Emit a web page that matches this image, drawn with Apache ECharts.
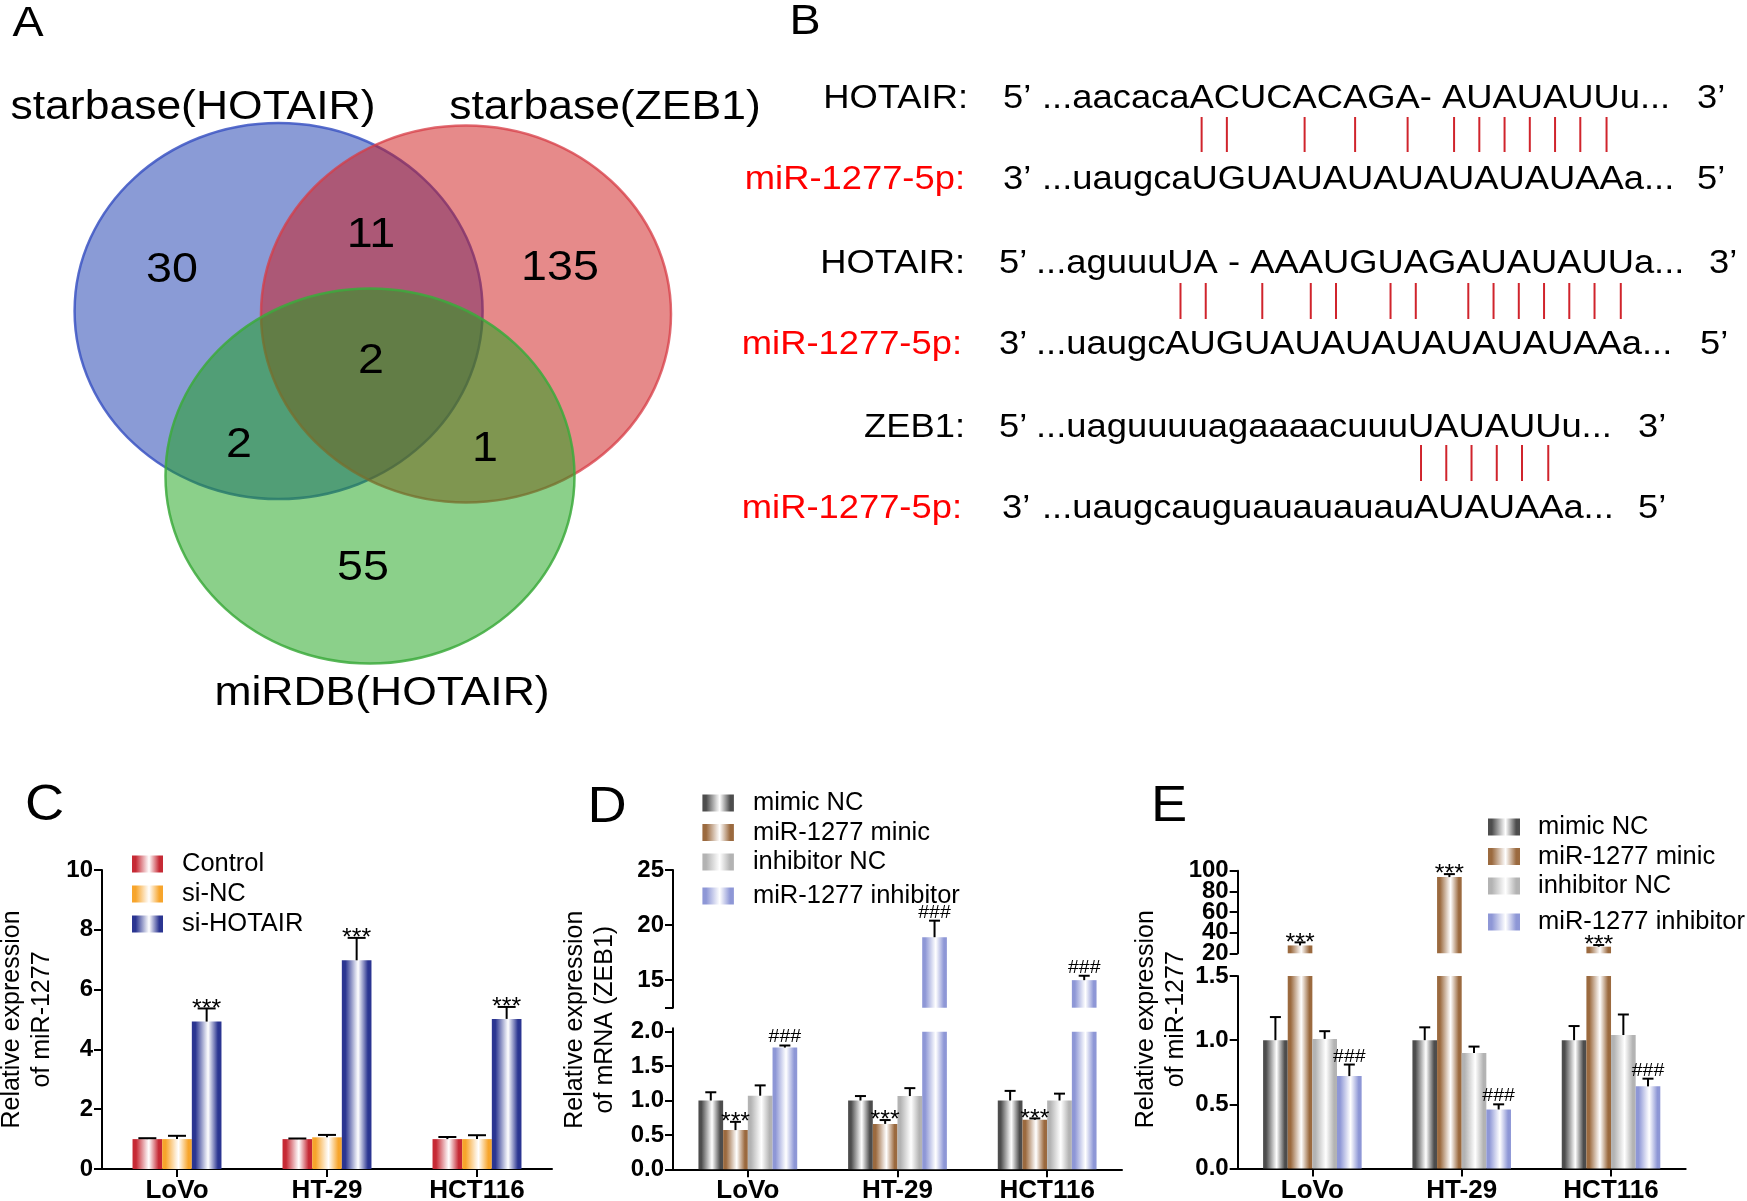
<!DOCTYPE html>
<html><head><meta charset="utf-8">
<script src="https://cdn.jsdelivr.net/npm/echarts@6/dist/echarts.min.js"></script>
<style>html,body{margin:0;padding:0;background:#fff}#c{width:1747px;height:1201px}</style>
</head><body><div id="c"></div>
<script>
const FONT = '"Liberation Sans", Arial, Helvetica, sans-serif';
const SX = 1.085; // horizontal stretch of the reference figure

// ---------- Panel A: Venn ----------
const vennSetNames = ['starbase(HOTAIR)', 'starbase(ZEB1)', 'miRDB(HOTAIR)'];
const vennCounts = [30, 11, 135, 2, 2, 1, 55];
// layout (kept separate from the data)
const vennSetGeom = [[278.6, 311, 204, 188], [466, 314, 205, 188.5], [370, 476, 204.5, 187.5]];
const vennSetLabelPos = [[193, 108], [605, 108], [382, 694]];
const vennCountPos = [[172, 270], [371, 235], [560, 268], [371, 361], [239, 445], [485, 449], [363, 568]];
const vennFill = ['rgba(21,55,173,0.5)', 'rgba(205,21,21,0.5)', 'rgba(23,161,21,0.5)'];
const vennStroke = ['rgba(60,85,195,0.85)', 'rgba(215,60,70,0.75)', 'rgba(60,170,60,0.85)'];

// ---------- Panel B: sequences ----------
const seqRows = [
  {label: 'HOTAIR:', red: false, endL: '5’', seq: '...aacacaACUCACAGA- AUAUAUUu...', endR: '3’'},
  {label: 'miR-1277-5p:', red: true, endL: '3’', seq: '...uaugcaUGUAUAUAUAUAUAUAAa...', endR: '5’'},
  {label: 'HOTAIR:', red: false, endL: '5’', seq: '...aguuuUA - AAAUGUAGAUAUAUUa...', endR: '3’'},
  {label: 'miR-1277-5p:', red: true, endL: '3’', seq: '...uaugcAUGUAUAUAUAUAUAUAAa...', endR: '5’'},
  {label: 'ZEB1:', red: false, endL: '5’', seq: '...uaguuuuagaaaacuuuUAUAUUu...', endR: '3’'},
  {label: 'miR-1277-5p:', red: true, endL: '3’', seq: '...uaugcauguauauauauAUAUAAa...', endR: '5’'}
];
// paired positions, counted from the first upper-case base of the upper strand
const pairSites = [
  [0, 1, 4, 6, 8, 11, 12, 13, 14, 15, 16, 17],
  [0, 1, 5, 7, 8, 10, 11, 13, 14, 15, 16, 17, 18, 19],
  [0, 1, 2, 3, 4, 5]
];
const rowY = [98.5, 179.5, 264, 345, 428, 509];
const rowLabelRight = [968, 965, 965, 962, 965, 962];
const rowEndLLeft = [1003, 1003, 999, 999, 999, 1002];
const rowSeqLeft = [1042, 1042, 1036, 1036, 1036, 1042];
const rowEndRLeft = [1697, 1697, 1709, 1700, 1638, 1638];
const pairY = [[117, 152], [283, 319], [445, 481]];

// ---------- Panels C, D, E: bar charts ----------
const cellLines = ['LoVo', 'HT-29', 'HCT116'];

const cGroups = ['Control', 'si-NC', 'si-HOTAIR'];
const cMean = [[1.0, 1.0, 1.0], [1.0, 1.06, 1.0], [4.93, 6.98, 5.02]];
const cErr = [[0.03, 0.02, 0.07], [0.11, 0.08, 0.13], [0.44, 0.75, 0.40]];
const cSig = [['', '', ''], ['', '', ''], ['***', '***', '***']];

const dGroups = ['mimic NC', 'miR-1277 minic', 'inhibitor NC', 'miR-1277 inhibitor'];
const dMean = [[1.0, 1.0, 1.0], [0.57, 0.66, 0.72], [1.07, 1.065, 1.0], [1.77, 18.9, 15.0]];
const dErr = [[0.12, 0.065, 0.14], [0.12, 0.056, 0.02], [0.15, 0.115, 0.10], [0.03, 1.5, 0.4]];
const dSig = [['', '', ''], ['***', '***', '***'], ['', '', ''], ['###', '###', '###']];

const eGroups = ['mimic NC', 'miR-1277 minic', 'inhibitor NC', 'miR-1277 inhibitor'];
const eMean = [[1.0, 1.0, 1.0], [27.6, 93.8, 26.4], [1.01, 0.90, 1.04], [0.72, 0.46, 0.64]];
const eErr = [[0.18, 0.10, 0.11], [3.0, 2.9, 1.6], [0.06, 0.05, 0.16], [0.09, 0.04, 0.06]];
const eSig = [['', '', ''], ['***', '***', '***'], ['', '', ''], ['###', '###', '###']];

const dLowerTicks = [0, 0.5, 1.0, 1.5, 2.0];
const dUpperLabels = [15, 20, 25];
const dUpperTicks = [12.5, 15, 20, 25];
const eUpperTicks = [20, 40, 60, 80, 100];
const eUpperLabelsA = [20, 60, 100];
const eUpperLabelsB = [40, 80];

const cColors = ['#c62a35', '#f7a52c', '#2b3591'];
const deColors = ['#4d4d4d', '#9b6a3f', '#b3b3b3', '#8e97d6'];

// ---------- helpers ----------
function mix(hex, t) {
  const n = parseInt(hex.slice(1), 16);
  const f = c => Math.round(c + (255 - c) * t);
  return 'rgb(' + f((n >> 16) & 255) + ',' + f((n >> 8) & 255) + ',' + f(n & 255) + ')';
}
function grad(hex) {
  return new echarts.graphic.LinearGradient(0, 0, 1, 0, [
    {offset: 0, color: hex}, {offset: 0.12, color: hex},
    {offset: 0.45, color: mix(hex, 0.78)}, {offset: 0.55, color: '#ffffff'},
    {offset: 0.88, color: hex}, {offset: 1, color: hex}
  ]);
}
const mctx = document.createElement('canvas').getContext('2d');
function textW(s, size) { mctx.font = size + 'px "Liberation Sans"'; return mctx.measureText(s).width; }

const AX_LINE = {show: true, lineStyle: {color: '#000', width: 2}};
const AX_TICK = {show: true, length: 8, lineStyle: {color: '#000', width: 2}};
function catAxis(gi, show) {
  return {gridIndex: gi, type: 'category', data: cellLines, show: show,
    axisLine: AX_LINE, axisTick: {show: true, alignWithLabel: true, length: 8, lineStyle: {color: '#000', width: 2}},
    axisLabel: {color: '#000', fontSize: 26, fontWeight: 'bold', fontFamily: FONT, margin: 9},
    splitLine: {show: false}};
}
function valAxis(gi, o) {
  return {gridIndex: gi, type: 'value', min: o.min, max: o.max, interval: o.interval, position: 'left',
    axisLine: o.noLine ? {show: false} : AX_LINE,
    axisTick: o.noLine ? {show: false} : Object.assign({}, AX_TICK, o.tickValues ? {customValues: o.tickValues} : {}),
    axisLabel: Object.assign({color: '#000', fontSize: 24, fontWeight: 'bold', fontFamily: FONT, margin: 9,
        lineHeight: o.lineHeight || 24, showMinLabel: true, showMaxLabel: true, hideOverlap: false},
      o.labelValues ? {customValues: o.labelValues} : {}, o.fixed ? {formatter: v => Number(v).toFixed(1)} : {}),
    splitLine: {show: false},
    name: o.name, nameLocation: 'middle', nameRotate: 90, nameGap: o.nameGap,
    nameTextStyle: {color: '#000', fontSize: 25, fontFamily: FONT, lineHeight: 30}};
}
function nameAxis(gi, name, gap) {
  return {gridIndex: gi, type: 'value', min: 0, max: 1, axisLine: {show: false}, axisTick: {show: false},
    axisLabel: {show: false}, splitLine: {show: false},
    name: name, nameLocation: 'middle', nameRotate: 90, nameGap: gap,
    nameTextStyle: {color: '#000', fontSize: 25, fontFamily: FONT, lineHeight: 30}};
}
function barSeries(name, ax, data, color, gap) {
  return {name: name, type: 'bar', xAxisIndex: ax, yAxisIndex: ax, data: data,
    barGap: '0%', barCategoryGap: gap * 100 + '%', itemStyle: {color: grad(color)},
    silent: true, emphasis: {disabled: true}, z: 2};
}
function errSeries(ax, means, errs, sigs, k, n, gap, cap, lo, hi) {
  return {type: 'custom', xAxisIndex: ax, yAxisIndex: ax, silent: true, z: 3,
    data: means.map((m, j) => [j, m, m + errs[j]]),
    renderItem: function (params, api) {
      const j = api.value(0), m = api.value(1), t = api.value(2);
      if (m < lo || t > hi) return null;
      const band = api.size([1, 0])[0];
      const bw = band * (1 - gap) / n;
      const p0 = api.coord([j, m]), p1 = api.coord([j, t]);
      const x = p0[0] + (k - (n - 1) / 2) * bw;
      const ch = [
        {type: 'line', shape: {x1: x, y1: p0[1], x2: x, y2: p1[1]}, style: {stroke: '#000', lineWidth: 2}},
        {type: 'line', shape: {x1: x - cap / 2, y1: p1[1], x2: x + cap / 2, y2: p1[1]}, style: {stroke: '#000', lineWidth: 2}}
      ];
      const s = sigs[params.dataIndex];
      if (s) {
        const star = s[0] === '*';
        ch.push({type: 'text', x: x, y: p1[1] + (star ? 1 : -8), scaleX: SX,
          style: {text: s, x: 0, y: 0, align: 'center', verticalAlign: 'middle', textAlign: 'center', textVerticalAlign: 'middle',
            fontSize: star ? 23 : 18, fontFamily: FONT, fill: '#000'}});
      }
      return {type: 'group', children: ch};
    }};
}

// ---------- grids ----------
const grids = [
  {left: 0, top: 0, width: 800, height: 760},          // 0 venn
  {left: 102, top: 870, width: 450, height: 299},      // 1 C
  {left: 673, top: 870, width: 449, height: 137.7},    // 2 D upper
  {left: 673, top: 1028.3, width: 449, height: 141},   // 3 D lower
  {left: 673, top: 870, width: 449, height: 299.3},    // 4 D name
  {left: 1237.7, top: 870.7, width: 448, height: 82.6},// 5 E upper
  {left: 1237.7, top: 976, width: 448, height: 192.5}, // 6 E lower
  {left: 1237.7, top: 870, width: 448, height: 298.5}  // 7 E name
].map(g => Object.assign(g, {containLabel: false, outerBoundsMode: 'none'}));

const xAxes = [
  {gridIndex: 0, type: 'value', min: 0, max: 800, show: false},
  catAxis(1, true),
  catAxis(2, false),
  catAxis(3, true),
  {gridIndex: 4, type: 'value', show: false},
  catAxis(5, false),
  catAxis(6, true),
  {gridIndex: 7, type: 'value', show: false}
];
const yAxes = [
  {gridIndex: 0, type: 'value', min: 0, max: 760, inverse: true, show: false},
  valAxis(1, {min: 0, max: 10, interval: 2, name: 'Relative expression\nof miR-1277', nameGap: 45}),
  valAxis(2, {min: 12.5, max: 25, labelValues: dUpperLabels, tickValues: dUpperTicks}),
  valAxis(3, {min: 0, max: 2.05, labelValues: dLowerTicks, tickValues: dLowerTicks, fixed: true}),
  nameAxis(4, 'Relative expression\nof mRNA (ZEB1)', 53),
  valAxis(5, {min: 20, max: 100, labelValues: eUpperLabelsA, tickValues: eUpperTicks, lineHeight: 18}),
  valAxis(6, {min: 0, max: 1.5, interval: 0.5, fixed: true, lineHeight: 18}),
  nameAxis(7, 'Relative expression\nof miR-1277', 47),
  valAxis(5, {min: 20, max: 100, labelValues: eUpperLabelsB, noLine: true, lineHeight: 18})
];

// ---------- series ----------
const series = [];
series.push({type: 'custom', xAxisIndex: 0, yAxisIndex: 0, silent: true, z: 1,
  data: vennSetGeom.map((g, i) => [g[0], g[1], g[2], g[3], i]),
  renderItem: function (params, api) {
    const i = params.dataIndex;
    const c = api.coord([api.value(0), api.value(1)]);
    const s = api.size([api.value(2), api.value(3)]);
    return {type: 'ellipse', shape: {cx: c[0], cy: c[1], rx: Math.abs(s[0]), ry: Math.abs(s[1])},
      style: {fill: vennFill[i], stroke: vennStroke[i], lineWidth: 2.5}};
  }});
series.push({type: 'custom', xAxisIndex: 0, yAxisIndex: 0, silent: true, z: 4,
  data: vennSetLabelPos.map(p => [p[0], p[1]]),
  renderItem: function (params, api) {
    const c = api.coord([api.value(0), api.value(1)]);
    return {type: 'text', x: c[0], y: c[1], scaleX: SX,
      style: {text: vennSetNames[params.dataIndex], x: 0, y: 0, align: 'center', verticalAlign: 'middle',
        textAlign: 'center', textVerticalAlign: 'middle', fontSize: 41, fontFamily: FONT, fill: '#000'}};
  }});
series.push({type: 'custom', xAxisIndex: 0, yAxisIndex: 0, silent: true, z: 4,
  data: vennCounts.map((v, i) => [vennCountPos[i][0], vennCountPos[i][1], v]),
  renderItem: function (params, api) {
    const c = api.coord([api.value(0), api.value(1)]);
    return {type: 'text', x: c[0], y: c[1], scaleX: SX,
      style: {text: String(api.value(2)), x: 0, y: 0, align: 'center', verticalAlign: 'middle',
        textAlign: 'center', textVerticalAlign: 'middle', fontSize: 43, fontFamily: FONT, fill: '#000'}};
  }});

// C
const cGap = 0.407;
cGroups.forEach((g, k) => {
  series.push(barSeries(g, 1, cMean[k], cColors[k], cGap));
});
cGroups.forEach((g, k) => {
  series.push(errSeries(1, cMean[k], cErr[k], cSig[k], k, 3, cGap, 18, 0, 10));
});
// D
const dGap = 0.34;
dGroups.forEach((g, k) => {
  series.push(barSeries(g, 3, dMean[k].map(v => Math.min(v, 2.0)), deColors[k], dGap));
  series.push(barSeries(g, 2, dMean[k].map(v => v >= 12.5 ? v : '-'), deColors[k], dGap));
});
dGroups.forEach((g, k) => {
  series.push(errSeries(3, dMean[k], dErr[k], dSig[k], k, 4, dGap, 11, 0, 2.05));
  series.push(errSeries(2, dMean[k], dErr[k], dSig[k], k, 4, dGap, 11, 12.5, 25));
});
// E
const eGap = 0.34;
eGroups.forEach((g, k) => {
  series.push(barSeries(g, 6, eMean[k].map(v => Math.min(v, 1.5)), deColors[k], eGap));
  series.push(barSeries(g, 5, eMean[k].map(v => v >= 20 ? v : '-'), deColors[k], eGap));
});
eGroups.forEach((g, k) => {
  series.push(errSeries(6, eMean[k], eErr[k], eSig[k], k, 4, eGap, 11, 0, 1.5));
  series.push(errSeries(5, eMean[k], eErr[k], eSig[k], k, 4, eGap, 11, 20, 100));
});

// ---------- legends ----------
function legend(names, left, top, w, gapText, itemGap) {
  return {data: names, left: left, top: top, orient: 'vertical', icon: 'rect', itemWidth: w, itemHeight: 17,
    itemGap: itemGap, selectedMode: false, padding: 0,
    textStyle: {color: '#000', fontSize: 25.5, fontFamily: FONT, lineHeight: 24, padding: [0, 0, 0, gapText]}};
}
const legends = [
  legend(cGroups, 132, 851, 31, 14, 4),
  legend(dGroups.slice(0, 3), 702.4, 790, 31.5, 14, 3.5),
  legend(dGroups.slice(3), 702.4, 883, 31.5, 14, 3.5),
  legend(eGroups.slice(0, 3), 1488, 814, 32, 13, 3.5),
  legend(eGroups.slice(3), 1488, 909, 32, 13, 3.5)
];

// ---------- graphic: panel letters and sequence panel ----------
const gEls = [];
[['A', 28, 24, 43], ['B', 805, 22, 43], ['C', 44.6, 806, 50], ['D', 607, 808, 50], ['E', 1169, 807, 50]].forEach(p => {
  gEls.push({type: 'text', x: p[1], y: p[2], scaleX: SX, style: {text: p[0], x: 0, y: 0, align: 'center', verticalAlign: 'middle',
    textAlign: 'center', textVerticalAlign: 'middle', fontSize: p[3], fontFamily: FONT, fill: '#000'}});
});
const BF = 33.5;
function bText(t, x, y, align, color) {
  return {type: 'text', x: x, y: y, scaleX: SX, originX: 0, style: {text: t, x: 0, y: 0, align: align, verticalAlign: 'middle',
    textAlign: align, textVerticalAlign: 'middle', fontSize: BF, fontFamily: FONT, fill: color}};
}
seqRows.forEach((r, i) => {
  gEls.push(bText(r.label, rowLabelRight[i], rowY[i], 'right', r.red ? '#ff0000' : '#000'));
  gEls.push(bText(r.endL, rowEndLLeft[i], rowY[i], 'left', '#000'));
  gEls.push(bText(r.seq, rowSeqLeft[i], rowY[i], 'left', '#000'));
  gEls.push(bText(r.endR, rowEndRLeft[i], rowY[i], 'left', '#000'));
});
pairSites.forEach((sites, p) => {
  const row = 2 * p;
  const seq = seqRows[row].seq;
  const off = seq.search(/[A-Z]/);
  sites.forEach(idx => {
    const ci = off + idx;
    const x = rowSeqLeft[row] + SX * (textW(seq.slice(0, ci), BF) + textW(seq[ci], BF) / 2);
    gEls.push({type: 'line', shape: {x1: x, y1: pairY[p][0], x2: x, y2: pairY[p][1]}, style: {stroke: '#d0242c', lineWidth: 2}});
  });
});

const chart = echarts.init(document.getElementById('c'), null, {renderer: 'canvas', width: 1747, height: 1201});
chart.setOption({
  animation: false,
  backgroundColor: '#ffffff',
  textStyle: {fontFamily: FONT},
  grid: grids, xAxis: xAxes, yAxis: yAxes,
  legend: legends,
  series: series,
  graphic: {elements: gEls}
});
</script></body></html>
